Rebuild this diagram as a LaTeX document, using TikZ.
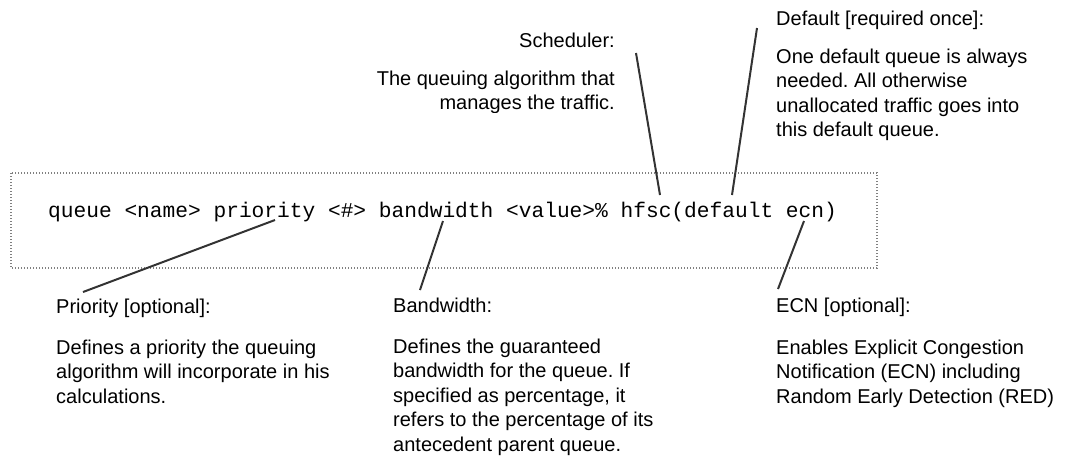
\documentclass[tikz,border=0pt]{standalone}
\usepackage{fontspec}
\setmainfont{Liberation Sans}
\setmonofont{Liberation Mono}
\frenchspacing
\tikzset{
  lbl/.style={inner sep=0pt, font=\fontsize{20}{24.5}\selectfont},
  body/.style={lbl, align=left},
  bodyr/.style={lbl, align=right},
  code/.style={inner sep=0pt, font=\ttfamily\fontsize{21.2}{25}\selectfont},
  conn/.style={line width=2pt, draw=black!80},
  frame/.style={draw=black!50, line width=1.2pt, dash pattern=on 1.2pt off 1.8pt}
}
\begin{document}
\begin{tikzpicture}[x=1pt,y=-1pt]
\useasboundingbox (0,0) rectangle (1073,456);
% frame
\draw[frame] (11,173) rectangle (877,268);
\node[code, anchor=base west] (codeline) at (48,217) {queue <name> priority <\#> bandwidth <value>\% hfsc(default ecn)};

% Scheduler (top middle)
\node[lbl, anchor=base east] (schedT) at (615,47) {Scheduler:};
\begin{scope}
\clip (300,60) rectangle (640,112.5);
\node[bodyr, anchor=base east] (schedB) at (615,109.5) {The queuing algorithm that\\manages the traffic.};
\end{scope}

% Default (top right)
\node[lbl, anchor=base west] (defT) at (776,25) {Default [required once]:};
\node[body, anchor=base west] (defB) at (776,136.5) {One default queue is always\\needed. All otherwise\\unallocated traffic goes into\\this default queue.};

% Bottom labels
\node[lbl, anchor=base west] (prioT) at (56,313) {Priority [optional]:};
\node[body, anchor=base west] (prioB) at (56,403) {Defines a priority the queuing\\algorithm will incorporate in his\\calculations.};

\node[lbl, anchor=base west] (bwT) at (393,312) {Bandwidth:};
\node[body, anchor=base west] (bwB) at (393,451) {Defines the guaranteed\\bandwidth for the queue. If\\specified as percentage, it\\refers to the percentage of its\\antecedent parent queue.};

\node[lbl, anchor=base west] (ecnT) at (776,312) {ECN [optional]:};
\node[body, anchor=base west] (ecnB) at (776,403) {Enables Explicit Congestion\\Notification (ECN) including\\Random Early Detection (RED)};

% connector end points
\coordinate (schedTop) at (636,53);
\coordinate (schedBot) at (660,195);
\coordinate (defTop) at (757,28);
\coordinate (defBot) at (732,195);
\coordinate (prioTop) at (275,220);
\coordinate (prioBot) at (83,292);
\coordinate (bwTop) at (443,221);
\coordinate (bwBot) at (420,290);
\coordinate (ecnTop) at (804,221);
\coordinate (ecnBot) at (778,289);

\draw[conn] (schedTop) -- (schedBot);
\draw[conn] (defTop) -- (defBot);
\draw[conn] (prioTop) -- (prioBot);
\draw[conn] (bwTop) -- (bwBot);
\draw[conn] (ecnTop) -- (ecnBot);
\end{tikzpicture}
\end{document}
